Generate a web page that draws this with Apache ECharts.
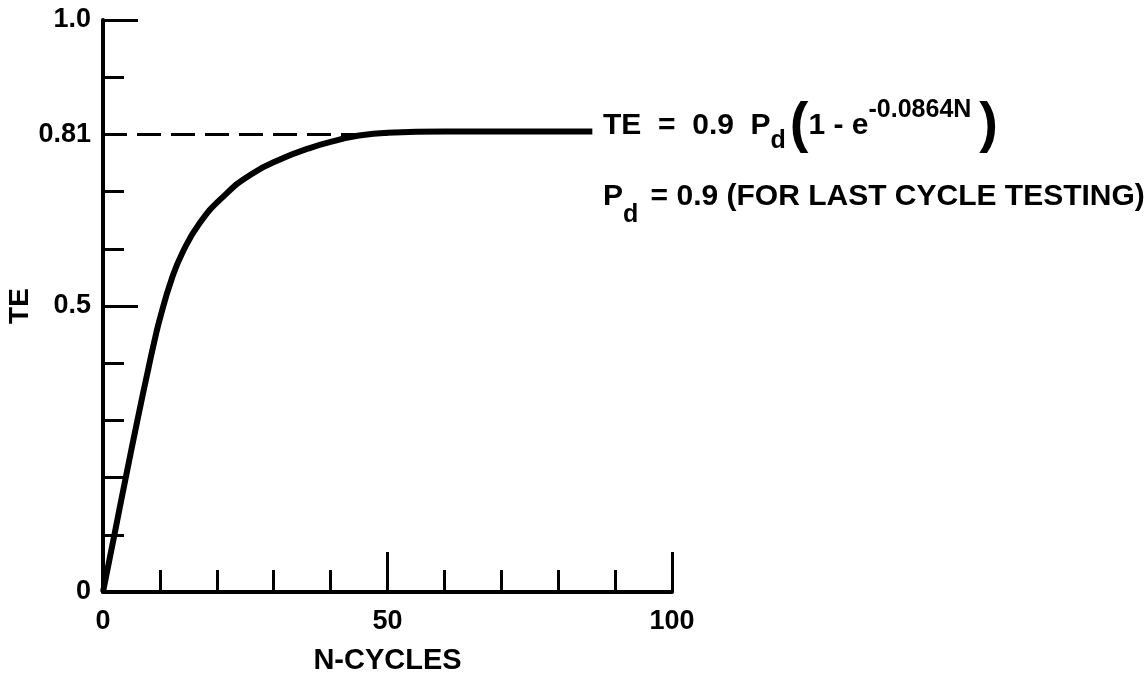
<!DOCTYPE html>
<html>
<head>
<meta charset="utf-8">
<script src="https://cdn.jsdelivr.net/npm/echarts@6/dist/echarts.min.js"></script>
<style>
html,body{margin:0;padding:0;background:#fff;}
#chart{width:1148px;height:681px;}
</style>
</head>
<body>
<div id="chart"></div>
<script>
// ---- data ----
const cyclesN = [0, 2, 4, 6, 8, 9, 10, 12, 14, 17, 21, 26, 32, 36, 40, 45, 50, 60, 70, 86];
const teValues = [0, 0.10, 0.20, 0.298, 0.392, 0.437, 0.478, 0.545, 0.594, 0.645, 0.69, 0.73, 0.76, 0.775, 0.787, 0.798, 0.803, 0.805, 0.805, 0.805];
const dashedN = [0, 50];
const dashedLevel = 0.80;
const xTickLabels = ['0', '', '', '', '', '50', '', '', '', '', '100'];
const yTickLabels = ['0', '', '', '', '', '0.5', '', '', '0.81', '', '1.0'];
const xAxisName = 'N-CYCLES';
const yAxisName = 'TE';

const FONT = 'Liberation Sans, Arial, sans-serif';
const chart = echarts.init(document.getElementById('chart'));

const curve = cyclesN.map((n, i) => [n, teValues[i]]);
const dashed = dashedN.map(n => [n, dashedLevel]);

const baseX = {
  type: 'value', min: 0, max: 100, gridIndex: 0, position: 'bottom',
  splitLine: {show: false}
};
const baseY = {
  type: 'value', min: 0, max: 1, gridIndex: 0, position: 'left',
  splitLine: {show: false}
};

chart.setOption({
  animation: false,
  backgroundColor: '#fff',
  grid: {left: 103, right: 476, top: 20, bottom: 89, containLabel: false},
  xAxis: [
    Object.assign({}, baseX, {
      interval: 10,
      axisLine: {show: true, onZero: false, lineStyle: {color: '#000', width: 4}},
      axisTick: {show: true, inside: true, length: 22, lineStyle: {color: '#000', width: 3}},
      axisLabel: {
        show: true, margin: 16, color: '#000', fontFamily: FONT, fontSize: 27, fontWeight: 'bold',
        formatter: v => xTickLabels[Math.round(v / 10)] || ''
      },
      name: xAxisName, nameLocation: 'middle', nameGap: 54,
      nameTextStyle: {color: '#000', fontFamily: FONT, fontSize: 29, fontWeight: 'bold'}
    }),
    Object.assign({}, baseX, {
      interval: 50,
      axisLine: {show: false, onZero: false},
      axisTick: {show: true, inside: true, length: 40, lineStyle: {color: '#000', width: 3}},
      axisLabel: {show: false}
    })
  ],
  yAxis: [
    Object.assign({}, baseY, {
      interval: 0.1,
      axisLine: {show: true, onZero: false, lineStyle: {color: '#000', width: 4}},
      axisTick: {show: true, inside: true, length: 21, lineStyle: {color: '#000', width: 3}},
      axisLabel: {
        show: true, margin: 12, color: '#000', fontFamily: FONT, fontSize: 27, fontWeight: 'bold',
        formatter: v => yTickLabels[Math.round(v * 10)] || ''
      },
      name: yAxisName, nameLocation: 'middle', nameGap: 66,
      nameTextStyle: {color: '#000', fontFamily: FONT, fontSize: 28, fontWeight: 'bold'}
    }),
    Object.assign({}, baseY, {
      interval: 0.5,
      axisLine: {show: false, onZero: false},
      axisTick: {show: true, inside: true, length: 35, lineStyle: {color: '#000', width: 3}},
      axisLabel: {show: false}
    })
  ],
  series: [
    {
      type: 'line', xAxisIndex: 0, yAxisIndex: 0, data: dashed,
      symbol: 'none', lineStyle: {color: '#000', width: 3, type: [24, 10]}, silent: true
    },
    {
      type: 'line', xAxisIndex: 0, yAxisIndex: 0, data: curve,
      symbol: 'none', smooth: 0.5, lineStyle: {color: '#000', width: 6}, silent: true
    }
  ],
  graphic: [
    {
      type: 'text', left: 603, top: 98,
      style: {
        text: '{n|TE  =  0.9  P}{sub|d}{par|(}{n|1 - e}{sup|-0.0864N}{par|)}',
        fill: '#000',
        rich: {
          n: {fontFamily: FONT, fontSize: 30, fontWeight: 'bold', fill: '#000'},
          sub: {fontFamily: FONT, fontSize: 25, fontWeight: 'bold', fill: '#000', verticalAlign: 'bottom', padding: [0, 4, 0, 0]},
          sup: {fontFamily: FONT, fontSize: 25, fontWeight: 'bold', fill: '#000', verticalAlign: 'top', padding: [0, 8, 0, 0]},
          par: {fontFamily: FONT, fontSize: 56, fontWeight: 'bold', fill: '#000'}
        }
      }
    },
    {
      type: 'text', left: 603, top: 182,
      style: {
        text: '{n|P}{sub|d}{n| = 0.9 (FOR LAST CYCLE TESTING)}',
        fill: '#000',
        rich: {
          n: {fontFamily: FONT, fontSize: 30, fontWeight: 'bold', fill: '#000', verticalAlign: 'top'},
          sub: {fontFamily: FONT, fontSize: 25, fontWeight: 'bold', fill: '#000', verticalAlign: 'bottom', lineHeight: 46, padding: [0, 4, 0, 0]}
        }
      }
    }
  ]
});
</script>
</body>
</html>
